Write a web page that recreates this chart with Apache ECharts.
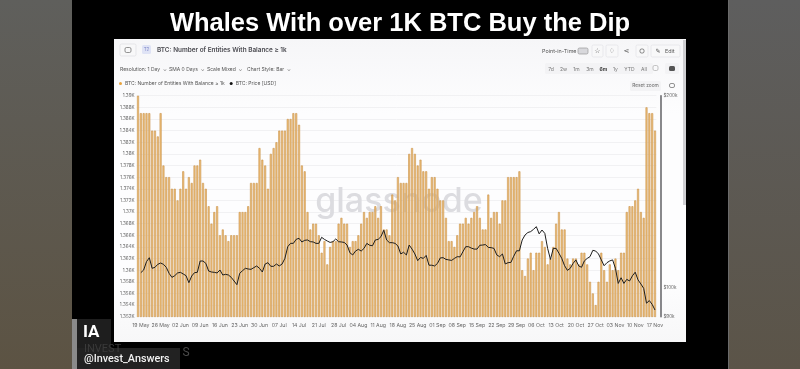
<!DOCTYPE html>
<html><head><meta charset="utf-8">
<style>
html,body{margin:0;padding:0;width:800px;height:369px;overflow:hidden;background:#000}
.b{position:absolute}
#chart{position:absolute;left:0;top:0;width:800px;height:369px;filter:blur(0.3px)}
</style>
<script src="https://cdn.jsdelivr.net/npm/echarts@6/dist/echarts.min.js"></script>
</head><body>
<div class="b" style="left:0;top:0;width:72px;height:369px;background:linear-gradient(#5f5f5c,#5c5343)"></div>
<div class="b" style="left:728px;top:0;width:72px;height:369px;background:linear-gradient(#5e5e5e,#5b5448);border-left:1px solid #6a6a6a;box-sizing:border-box"></div>
<div class="b" style="left:114px;top:39px;width:572px;height:303px;background:linear-gradient(#f6f6f8,#fdfdfe 25%,#fdfdfe 80%,#f7f7f8)"></div>
<div class="b" style="left:683px;top:40px;width:3px;height:165px;background:#cfcfd2"></div>
<div class="b" style="left:72px;top:319px;width:5px;height:50px;background:#8a8a8a"></div>
<div class="b" style="left:77px;top:319px;width:34px;height:29px;background:#1e1e1e"></div>
<div class="b" style="left:77px;top:348px;width:103px;height:21px;background:#222"></div>
<div id="chart"></div>
<script>
const dates = [
"18 May","19 May","20 May","21 May","22 May","23 May","24 May","25 May","26 May","27 May","28 May","29 May","30 May","31 May",
"01 Jun","02 Jun","03 Jun","04 Jun","05 Jun","06 Jun","07 Jun","08 Jun","09 Jun","10 Jun","11 Jun","12 Jun","13 Jun","14 Jun","15 Jun","16 Jun","17 Jun","18 Jun","19 Jun","20 Jun","21 Jun","22 Jun","23 Jun","24 Jun","25 Jun","26 Jun","27 Jun","28 Jun","29 Jun","30 Jun",
"01 Jul","02 Jul","03 Jul","04 Jul","05 Jul","06 Jul","07 Jul","08 Jul","09 Jul","10 Jul","11 Jul","12 Jul","13 Jul","14 Jul","15 Jul","16 Jul","17 Jul","18 Jul","19 Jul","20 Jul","21 Jul","22 Jul","23 Jul","24 Jul","25 Jul","26 Jul","27 Jul","28 Jul","29 Jul","30 Jul","31 Jul",
"01 Aug","02 Aug","03 Aug","04 Aug","05 Aug","06 Aug","07 Aug","08 Aug","09 Aug","10 Aug","11 Aug","12 Aug","13 Aug","14 Aug","15 Aug","16 Aug","17 Aug","18 Aug","19 Aug","20 Aug","21 Aug","22 Aug","23 Aug","24 Aug","25 Aug","26 Aug","27 Aug","28 Aug","29 Aug","30 Aug","31 Aug",
"01 Sep","02 Sep","03 Sep","04 Sep","05 Sep","06 Sep","07 Sep","08 Sep","09 Sep","10 Sep","11 Sep","12 Sep","13 Sep","14 Sep","15 Sep","16 Sep","17 Sep","18 Sep","19 Sep","20 Sep","21 Sep","22 Sep","23 Sep","24 Sep","25 Sep","26 Sep","27 Sep","28 Sep","29 Sep","30 Sep",
"01 Oct","02 Oct","03 Oct","04 Oct","05 Oct","06 Oct","07 Oct","08 Oct","09 Oct","10 Oct","11 Oct","12 Oct","13 Oct","14 Oct","15 Oct","16 Oct","17 Oct","18 Oct","19 Oct","20 Oct","21 Oct","22 Oct","23 Oct","24 Oct","25 Oct","26 Oct","27 Oct","28 Oct","29 Oct","30 Oct","31 Oct",
"01 Nov","02 Nov","03 Nov","04 Nov","05 Nov","06 Nov","07 Nov","08 Nov","09 Nov","10 Nov","11 Nov","12 Nov","13 Nov","14 Nov","15 Nov","16 Nov","17 Nov"];
const entities = [
1390,1387,1387,1387,1387,1384,1384,1383,1387,1378,1376,1376,1374,1374,1372,1374,1377,1374,1376,1375,
1378,1378,1379,1375,1374,1371,1368,1370,1371,1366,1367,1366,1365,1366,1366,1366,1370,1370,1370,1371,
1375,1375,1375,1381,1379,1378,1374,1380,1381,1382,1384,1384,1384,1386,1386,1387,1387,1385,1378,1377,
1370,1367,1368,1368,1366,1363,1365,1361,1364,1365,1365,1368,1369,1368,1368,1364,1365,1365,1366,1368,
1370,1369,1370,1370,1371,1369,1371,1367,1367,1366,1373,1372,1376,1375,1375,1375,1380,1381,1380,1378,
1379,1377,1377,1374,1376,1376,1374,1372,1372,1369,1365,1365,1364,1366,1368,1368,1369,1368,1369,1370,
1371,1369,1367,1367,1373,1369,1370,1370,1368,1372,1372,1376,1376,1376,1376,1377,1360,1359,1362,1363,
1360,1363,1363,1365,1364,1361,1362,1364,1368,1370,1367,1367,1362,1361,1362,1362,1361,1363,1363,1361,
1358,1356,1354,1358,1363,1360,1358,1361,1360,1362,1360,1363,1363,1370,1371,1371,1372,1374,1370,1369,
1388,1387,1387,1384];
const price = [
null,105520,106540,109790,111380,107190,107580,108750,109260,108750,107580,105270,103750,104380,105400,105650,105020,104380,101780,104250,
105520,105650,110060,110060,109130,106150,105780,105650,105400,106540,104630,104880,104630,103750,102390,101040,105270,106280,107190,106930,
106800,107450,108100,107190,105780,108870,109400,107970,107970,108870,108100,108870,111120,115900,117320,117320,119040,119470,117880,118610,
118750,118030,117900,117300,117300,119900,119000,118300,117700,118000,119200,118000,117900,117700,116600,113400,112500,114100,114800,114100,
115200,117300,116500,116300,118750,119000,120200,123000,118750,117600,117600,117300,116200,112900,113600,112500,116600,114900,112900,110200,
111500,111100,112300,108400,108400,108100,109100,111300,111400,110700,110500,110300,111100,111800,111700,113800,115900,115900,115300,114900,
114900,116500,116600,116800,115600,115500,115200,112500,111800,112900,108900,109400,109500,112000,114200,114200,118750,120900,122000,122400,
123400,124600,121400,123100,121600,115200,110700,115200,115200,113200,111100,108200,106400,107200,109100,110500,108100,107600,110100,111100,
111800,114400,114100,112900,110500,108200,109400,110100,110500,107200,101500,103600,101500,103000,102400,104300,105700,102800,101300,99700,
94500,95400,94100,92200];
const priceTicks = [90000,100000,200000];
const seriesNames = ["BTC: Number of Entities With Balance ≥ 1k","BTC: Price [USD]"];

const FF = '"Inter","Liberation Sans",sans-serif';
function T(x,y,text,size,color,extra){
  return Object.assign({type:'text',x:x,y:y,z:20,silent:true,
    style:Object.assign({text:text,fontSize:size,fill:color,fontFamily:FF,textAlign:'left',textVerticalAlign:'middle'},extra||{})});
}
function Box(x,y,w,h,fill,stroke,z){
  return {type:'rect',x:x,y:y,z:z||18,silent:true,shape:{x:0,y:0,width:w,height:h,r:1.5},style:{fill:fill,stroke:stroke||null,lineWidth:stroke?0.7:0}};
}
const gfx = [
  T(400,24,'Whales With over 1K BTC Buy the Dip',25.5,'#fff',{fontFamily:'"Liberation Sans",Arial,sans-serif',fontWeight:'bold',textAlign:'center'}),
  {type:'text',x:399,y:202,z:1,silent:true,style:{text:'glassnode',fontSize:34,fontWeight:500,fill:'#dcdce0',fontFamily:FF,textAlign:'center',textVerticalAlign:'middle'}},
  Box(120,44,16,12,'#f8f8f9','#dedee2'), Box(125,47.5,6,5,'none','#666'),
  Box(142,45,9,9,'#dfe3f5'), T(146.5,50,'T2',4.5,'#7f88c8',{textAlign:'center'}),
  T(157,50.5,seriesNames[0],6.4,'#4a4a50',{fontWeight:'600'}),
  T(120,69,'Resolution: 1 Day  ⌄',5,'#555'),
  T(169,69,'SMA 0 Days  ⌄',5,'#555'),
  T(207,69,'Scale Mixed  ⌄',5,'#555'),
  T(247,69,'Chart Style: Bar  ⌄',5,'#555'),
  T(542,51,'Point-in-Time',5.4,'#555'),
  Box(578,48,10,6,'#d8d8dc','#999'),
  Box(592,45,11,12,'#f8f8f9','#e2e2e6'), T(597.5,51,'☆',7,'#555',{textAlign:'center',fontFamily:'"DejaVu Sans"'}),
  Box(606,45,12,12,'#f8f8f9','#e2e2e6'), T(612,51,'♢',7,'#555',{textAlign:'center',fontFamily:'"DejaVu Sans"'}),
  T(626.5,51,'⋖',7,'#555',{textAlign:'center',fontFamily:'"DejaVu Sans"'}),
  Box(636,45,12,12,'#f8f8f9','#e2e2e6'), Box(640,49,4,4,'none','#555'),
  Box(651,45,29,12,'#f8f8f9','#e2e2e6'), T(658,51,'✎',6,'#555',{fontFamily:'"DejaVu Sans"',textAlign:'center'}), T(665,51,'Edit',5.4,'#555'),
  Box(545,63,108,11,'#f3f3f5'),
  T(551,69,'7d',5,'#777',{textAlign:'center'}),T(563.5,69,'2w',5,'#777',{textAlign:'center'}),T(576.5,69,'1m',5,'#777',{textAlign:'center'}),
  T(590,69,'3m',5,'#777',{textAlign:'center'}),T(603.5,69,'6m',5,'#444',{textAlign:'center',fontWeight:'bold'}),T(615.5,69,'1y',5,'#777',{textAlign:'center'}),
  T(629.5,69,'YTD',5,'#777',{textAlign:'center'}),T(644,69,'All',5,'#777',{textAlign:'center'}),
  Box(653,65.5,5,5,'none','#aaa'),
  Box(665,63,14,11,'#f3f3f5'), Box(669,66,6,5,'#555'),
  Box(630,81,31,10,'#f3f3f5'), T(645.5,86,'Reset zoom',4.8,'#666',{textAlign:'center'}),
  Box(669.5,83.5,5,4,'none','#666'),
  T(83,333,'IA',17,'#fff',{fontFamily:'Roboto,"Liberation Sans"',fontWeight:'bold'}),
  T(84,349,'INVEST',11,'#3a3a3a',{fontFamily:'Roboto,"Liberation Sans"'}),
  T(84,359,'@Invest_Answers',10.8,'#f2f2f2',{fontFamily:'Roboto,"Liberation Sans"',fontWeight:'500'}),
  T(182.5,353,'S',12,'#4a4a4a',{fontFamily:'Roboto,"Liberation Sans"'})
];

const chart = echarts.init(document.getElementById('chart'),null,{renderer:'canvas'});
chart.setOption({
  animation:false,
  backgroundColor:'transparent',
  legend:{left:119,top:81,itemWidth:3,itemHeight:3,itemGap:5,icon:'circle',padding:0,
    textStyle:{fontSize:5,color:'#555',fontFamily:FF,padding:[0,0,0,-2]},
    data:[{name:seriesNames[0],itemStyle:{color:'#E8A33D',borderWidth:0}},{name:seriesNames[1],itemStyle:{color:'#111',borderWidth:0}}]},
  grid:{left:136.6,width:519.8,top:95.7,height:221,containLabel:false},
  xAxis:{type:'category',data:dates,boundaryGap:true,
    axisLine:{show:false},axisTick:{show:false},
    axisLabel:{fontSize:5.2,color:'#666',fontFamily:FF,margin:6,hideOverlap:false,interval:function(i){return (i-1)%7===0;}}},
  yAxis:[
    {type:'value',min:1352,max:1390,interval:2,position:'left',
     axisLine:{show:false},axisTick:{show:false},
     axisLabel:{fontSize:4.6,color:'#666',fontFamily:FF,margin:2,formatter:function(v){return (v/1000)+'K';}},
     splitLine:{show:true,lineStyle:{color:'#f1f1f3',width:1}}},
    {type:'log',logBase:10,min:90000,max:200000,position:'right',offset:4,
     axisLine:{show:true,lineStyle:{color:'#6b6b6f',width:1.6}},axisTick:{show:false},
     splitLine:{show:false},minorTick:{show:false},
     axisLabel:{customValues:priceTicks,fontSize:4.6,color:'#666',fontFamily:FF,margin:3,formatter:function(v){return '$'+Math.round(v/1000)+'k';}}}
  ],
  series:[
    {name:seriesNames[0],type:'bar',yAxisIndex:0,data:entities,barWidth:2,z:2,
     itemStyle:{color:'#EFC07A',borderColor:'#C9924A',borderWidth:0.6}},
    {name:seriesNames[1],type:'line',yAxisIndex:1,data:price,showSymbol:false,symbol:'none',z:3,connectNulls:false,
     lineStyle:{color:'#1c1c1c',width:1},itemStyle:{color:'#111'}}
  ],
  graphic:{elements:gfx}
});
</script>
</body></html>
